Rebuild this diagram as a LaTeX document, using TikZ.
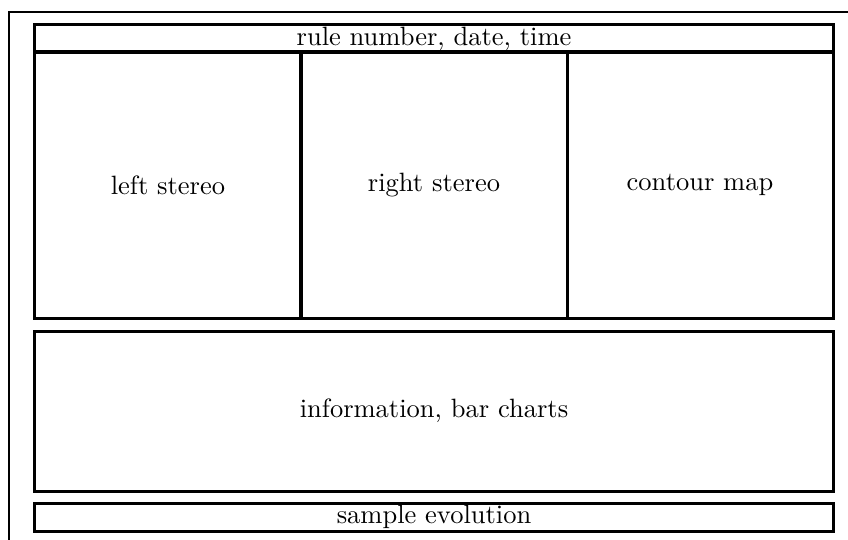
\documentclass[tikz,border=0pt]{standalone}
\begin{document}
\begin{tikzpicture}[x=0.4pt,y=-0.4pt,
  panel/.style={draw,line width=1.2pt,inner sep=0pt,outer sep=0pt,
    font=\fontsize{10.6}{12.7}\selectfont},
  frame/.style={line width=0.75pt}]
\useasboundingbox (0,0) rectangle (848,540);
% outer frame, running off the page on the right and bottom
\draw[frame] (9,560) -- (9,12) -- (870,12);
% header strip
\node[panel,minimum width=319.2pt,minimum height=10.8pt] (head) at (434,38.5) {rule number, date, time};
% three display panels
\node[panel,minimum width=106.4pt,minimum height=106.4pt] (left) at (168,185) {left stereo};
\node[panel,minimum width=106.4pt,minimum height=106.4pt] (right) at (434,185) {right stereo};
\node[panel,minimum width=106.4pt,minimum height=106.4pt] (contour) at (700,185) {contour map};
% information area
\node[panel,minimum width=319.2pt,minimum height=64pt] (info) at (434,411) {information, bar charts};
% footer strip
\node[panel,minimum width=319.2pt,minimum height=11.2pt] (sample) at (434,517) {sample evolution};
\end{tikzpicture}
\end{document}
